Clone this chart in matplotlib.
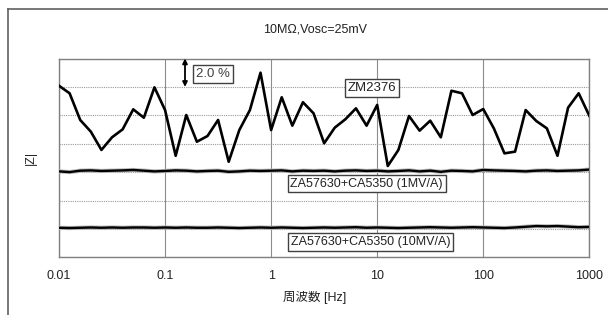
import numpy as np
import matplotlib
matplotlib.use("Agg")
import matplotlib.pyplot as plt
from matplotlib.lines import Line2D

plt.rcParams['font.family'] = ['Liberation Sans', 'Noto Sans CJK JP', 'DejaVu Sans']

# ---- data ----
freq_exp = np.arange(0, 51) / 10.0 - 2.0          # 10 points per decade, 0.01 .. 1000 Hz
freq = 10 ** freq_exp

zm2376 = [12.08, 11.55, 9.67, 8.85, 7.56, 8.45, 9.01, 10.42, 9.83, 11.97,
          10.37, 7.15, 10.02, 8.14, 8.54, 9.67, 6.73, 8.96, 10.37, 13.0,
          8.96, 11.27, 9.27, 10.92, 10.14, 8.03, 9.13, 9.72, 10.49, 9.27,
          10.73, 6.43, 7.56, 9.95, 8.92, 9.62, 8.45, 11.73, 11.55, 10.02,
          10.44, 9.08, 7.32, 7.44, 10.37, 9.6, 9.08, 7.15, 10.54, 11.55, 9.97]

za_1mv = [6.05, 6.0, 6.1, 6.12, 6.08, 6.1, 6.12, 6.15, 6.1, 6.05,
          6.08, 6.12, 6.1, 6.05, 6.08, 6.1, 6.02, 6.05, 6.1, 6.08,
          6.1, 6.12, 6.05, 6.1, 6.08, 6.1, 6.05, 6.1, 6.12, 6.08,
          6.1, 6.05, 6.08, 6.12, 6.05, 6.1, 6.02, 6.1, 6.08, 6.05,
          6.15, 6.12, 6.1, 6.08, 6.05, 6.1, 6.12, 6.08, 6.1, 6.12, 6.18]

za_10mv = [2.08, 2.06, 2.08, 2.1, 2.08, 2.1, 2.08, 2.1, 2.1, 2.08,
           2.1, 2.08, 2.1, 2.08, 2.08, 2.1, 2.08, 2.06, 2.08, 2.1,
           2.08, 2.1, 2.08, 2.06, 2.08, 2.1, 2.08, 2.1, 2.12, 2.08,
           2.1, 2.08, 2.06, 2.08, 2.1, 2.12, 2.1, 2.08, 2.1, 2.12,
           2.1, 2.08, 2.06, 2.1, 2.15, 2.2, 2.18, 2.2, 2.16, 2.12, 2.14]

xticks = [0.01, 0.1, 1, 10, 100, 1000]
xtick_labels = ["0.01", "0.1", "1", "10", "100", "1000"]
title = "10MΩ,Vosc=25mV"
xlabel = "周波数 [Hz]"
ylabel = "|Z|"

W, H = 608, 315
fig = plt.figure(figsize=(W / 100, H / 100), dpi=100)

def fx(px):
    return px / W

def fy(py):
    return 1 - py / H

# outer frame (left and top lines)
fig.add_artist(Line2D([fx(8), fx(8)], [fy(9), 0], color='#606060', lw=1.2))
fig.add_artist(Line2D([fx(8), 1.0], [fy(9), fy(9)], color='#606060', lw=1.2))

L, R, T, B = 59, 589.3, 58.5, 257.3
ax = fig.add_axes([fx(L), fy(B), fx(R) - fx(L), fy(T) - fy(B)])
ax.set_xscale('log')
ax.set_xlim(0.01, 1000)
ax.set_ylim(0, 14)

# grid
ax.set_yticks(np.arange(0, 15, 2))
ax.set_yticklabels([])
ax.tick_params(axis='y', length=0)
ax.set_xticks(xticks)
ax.set_xticklabels(xtick_labels, fontsize=9, color='#222222')
ax.tick_params(axis='x', length=0, pad=9)
ax.xaxis.set_minor_locator(matplotlib.ticker.NullLocator())
ax.grid(axis='y', color='#9a9a9a', linestyle=(0, (1, 1)), lw=0.8)
ax.grid(axis='x', color='#8c8c8c', linestyle='-', lw=0.8)
for s in ax.spines.values():
    s.set_color('#808080')
    s.set_linewidth(1.0)

# series
ax.plot(freq, za_10mv, color='#b8b8b8', lw=3.0, zorder=3)
ax.plot(freq, za_10mv, color='black', lw=1.7, zorder=4)
ax.plot(freq, za_1mv, color='#b8b8b8', lw=3.0, zorder=3)
ax.plot(freq, za_1mv, color='black', lw=1.7, zorder=4)
ax.plot(freq, zm2376, color='black', lw=1.9, zorder=5)

# scale arrow
ax.annotate('', xy=(10 ** (-2 + (185 - L) / ((R - L) / 5)), 12.0),
            xytext=(10 ** (-2 + (185 - L) / ((R - L) / 5)), 14.0),
            arrowprops=dict(arrowstyle='<|-|>', color='black', lw=1.3,
                            mutation_scale=7, shrinkA=0, shrinkB=0),
            zorder=6)

box = dict(boxstyle='square,pad=0.22', fc='white', ec='#404040', lw=1.0)
fig.text(fx(213.3), fy(74), "2.0 %", fontsize=9.5, color='#404040',
         ha='center', va='center', bbox=box, zorder=10)
fig.text(fx(372), fy(88), "ZM2376", fontsize=9.5, color='#222222',
         ha='center', va='center', bbox=box, zorder=10)
fig.text(fx(366.5), fy(183.5), "ZA57630+CA5350 (1MV/A)", fontsize=9, color='#222222',
         ha='center', va='center', bbox=box, zorder=10)
fig.text(fx(370.5), fy(242), "ZA57630+CA5350 (10MV/A)", fontsize=9, color='#222222',
         ha='center', va='center', bbox=box, zorder=10)

# title and axis labels
fig.text(fx(315), fy(30), title, fontsize=9, color='#222222', ha='center', va='center')
fig.text(fx(315), fy(297), xlabel, fontsize=9, color='#222222', ha='center', va='center')
fig.text(fx(31), fy(158), ylabel, fontsize=9, color='#222222', ha='center', va='center',
         rotation=90)

fig.savefig('out.png', dpi=100)
